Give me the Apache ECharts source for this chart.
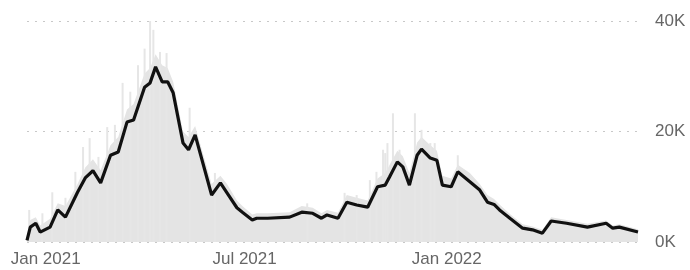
<!DOCTYPE html>
<html lang="en">

<head>
    <meta charset="UTF-8">
    <title>daily cases</title>
    <script src="https://cdn.jsdelivr.net/npm/echarts@6/dist/echarts.min.js"></script>
    <style>
        body {
            margin: 0;
        }

        #chart {
            width: 690px;
            height: 270px;
        }
    </style>
</head>

<body>
    <div id="chart"></div>
    <script>
        // 7-day average (black line)
        var avgDates = ['2020-12-15', '2020-12-18', '2020-12-23', '2020-12-27', '2021-01-05', '2021-01-12', '2021-01-19',
            '2021-01-30', '2021-02-06', '2021-02-13', '2021-02-20', '2021-03-01', '2021-03-08', '2021-03-16', '2021-03-22',
            '2021-04-01', '2021-04-06', '2021-04-11', '2021-04-17', '2021-04-22', '2021-04-27', '2021-05-06', '2021-05-11',
            '2021-05-17', '2021-06-01', '2021-06-09', '2021-06-15', '2021-06-24', '2021-06-29', '2021-07-08', '2021-07-12',
            '2021-07-22', '2021-08-11', '2021-08-22', '2021-09-01', '2021-09-09', '2021-09-14', '2021-09-24', '2021-10-02',
            '2021-10-11', '2021-10-21', '2021-10-30', '2021-11-06', '2021-11-10', '2021-11-17', '2021-11-22', '2021-11-28',
            '2021-12-05', '2021-12-09', '2021-12-17', '2021-12-23', '2021-12-28', '2022-01-05', '2022-01-11', '2022-01-22',
            '2022-01-31', '2022-02-07', '2022-02-13', '2022-02-18', '2022-02-28', '2022-03-11', '2022-03-20', '2022-03-29',
            '2022-04-06', '2022-04-20', '2022-05-09', '2022-05-26', '2022-06-01', '2022-06-07', '2022-06-24'];
        var avgValues = [300, 2700, 3400, 1800, 2700, 5800, 4500, 9000, 11600, 12900, 10700, 15700, 16300, 21700, 22100,
            28000, 28800, 31700, 29000, 29000, 27000, 17900, 16700, 19400, 8500, 10700, 8900, 6200, 5400, 4000, 4300,
            4300, 4500, 5400, 5200, 4300, 4900, 4300, 7200, 6700, 6300, 10000, 10300, 11800, 14500, 13600, 10300,
            15700, 16800, 15200, 14800, 10300, 10000, 12700, 10900, 9400, 7200, 6800, 5800, 4200, 2500, 2200, 1600,
            3800, 3400, 2700, 3400, 2500, 2700, 1800];
        // daily counts, upper edge of the grey fill (same dates)
        var dailyValues = [600, 4000, 4500, 3000, 4200, 7000, 6500, 10500, 13500, 15000, 13000, 17500, 19000, 24000, 25000,
            30500, 31500, 34000, 32000, 31500, 29000, 20000, 19000, 21000, 10500, 12000, 10500, 7500, 6500, 5000, 5200,
            5200, 5400, 6500, 6200, 5200, 5800, 5300, 8500, 8000, 7500, 11500, 12500, 14000, 16500, 15500, 12500,
            18000, 19000, 17500, 16500, 12000, 11500, 14000, 12500, 10500, 8500, 7800, 6800, 5000, 3200, 2800, 2200,
            4500, 4000, 3300, 3900, 3000, 3200, 2300];
        // single-day spikes
        var spikeDates = ['2020-12-17', '2020-12-29', '2021-01-07', '2021-01-19', '2021-01-28', '2021-02-04', '2021-02-10',
            '2021-02-18', '2021-02-26', '2021-03-05', '2021-03-12', '2021-03-19', '2021-03-26', '2021-04-01', '2021-04-06',
            '2021-04-09', '2021-04-15', '2021-04-21', '2021-05-12', '2021-06-04', '2021-08-27', '2021-09-30', '2021-10-11',
            '2021-10-23', '2021-10-29', '2021-11-04', '2021-11-06', '2021-11-08', '2021-11-13', '2021-11-19', '2021-12-03',
            '2021-12-09', '2021-12-17', '2021-12-21', '2022-01-11'];
        var spikeValues = [5800, 5200, 9000, 8000, 12700, 17200, 18800, 15400, 20800, 21200, 28800, 27200, 32000, 35000, 40200,
            38400, 34400, 34200, 24300, 12500, 7000, 8900, 8500, 11200, 12700, 16700, 16100, 17900, 23300, 16700, 23300,
            20300, 17900, 17900, 15700];
        var xLabels = ['2021-01-01', '2021-07-01', '2022-01-01'];

        var monthNames = ['Jan', 'Feb', 'Mar', 'Apr', 'May', 'Jun', 'Jul', 'Aug', 'Sep', 'Oct', 'Nov', 'Dec'];
        function ts(d) {
            return +new Date(d + 'T00:00:00Z');
        }

        var myChart = echarts.init(document.getElementById('chart'));
        myChart.setOption({
            animation: false,
            grid: {
                left: 27,
                right: 52,
                top: 21,
                bottom: 28
            },
            xAxis: {
                type: 'value',
                min: ts('2020-12-15'),
                max: ts('2022-06-24'),
                axisLine: { show: false },
                axisTick: { show: false },
                splitLine: { show: false },
                axisLabel: {
                    customValues: xLabels.map(ts),
                    color: '#666',
                    fontSize: 17,
                    fontFamily: 'Liberation Sans, Arial',
                    margin: 9,
                    formatter: function (v) {
                        var d = new Date(v);
                        return monthNames[d.getUTCMonth()] + ' ' + d.getUTCFullYear();
                    }
                }
            },
            yAxis: {
                type: 'value',
                position: 'right',
                min: 0,
                max: 40000,
                interval: 20000,
                axisLine: { show: false },
                axisTick: { show: false },
                axisLabel: {
                    color: '#666',
                    fontSize: 17,
                    fontFamily: 'Liberation Sans, Arial',
                    margin: 17,
                    formatter: function (v) {
                        return (v / 1000) + 'K';
                    }
                },
                splitLine: {
                    lineStyle: {
                        color: '#c8c8c8',
                        type: [2, 6],
                        width: 1
                    }
                }
            },
            series: [
                {
                    type: 'line',
                    data: avgDates.map((d, i) => [ts(d), dailyValues[i]]),
                    symbol: 'none',
                    lineStyle: { width: 0 },
                    areaStyle: { color: '#e4e4e4', opacity: 1 },
                    z: 1
                },
                {
                    type: 'bar',
                    data: spikeDates.map((d, i) => [ts(d), spikeValues[i]]),
                    barWidth: 2,
                    itemStyle: { color: '#e6e6e6' },
                    z: 1
                },
                {
                    type: 'line',
                    data: avgDates.map((d, i) => [ts(d), avgValues[i]]),
                    symbol: 'none',
                    lineStyle: { color: '#111', width: 3.2 },
                    z: 3
                }
            ]
        })
    </script>
</body>

</html>
